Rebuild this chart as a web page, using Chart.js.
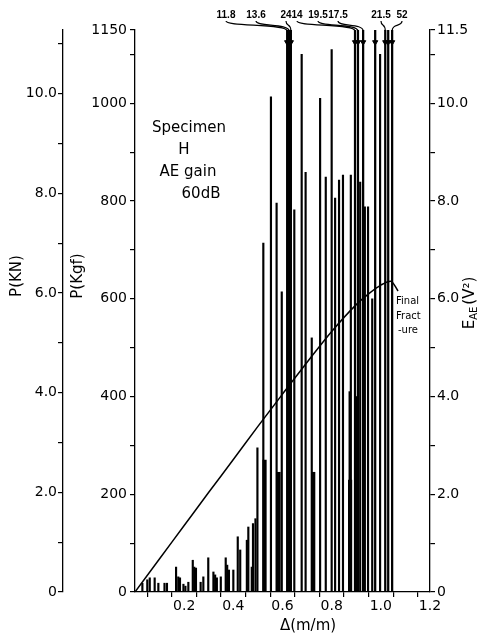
<!DOCTYPE html>
<html>
<head>
<meta charset="utf-8">
<script src="https://cdn.jsdelivr.net/npm/chart.js@4.4.1/dist/chart.umd.min.js"></script>
<style>
  html, body { margin: 0; padding: 0; background: #fff; }
  #wrap { width: 479px; height: 635px; }
</style>
</head>
<body>
<div id="wrap"><canvas id="aeChart" width="479" height="635"></canvas></div>
<script>
// load curve: P (kgf) against deflection (m/m)
const loadDelta = [0, 0.1, 0.2, 0.3, 0.4, 0.5, 0.6, 0.7, 0.8, 0.9, 0.95, 1.0, 1.04, 1.07];
const loadKgf   = [0, 68, 136, 204, 271, 339, 405, 470, 533, 588, 610, 628, 636, 616];

// AE energy per burst, E_AE (V^2) - thin lines
const burstDelta = [0.03, 0.05, 0.06, 0.08, 0.095, 0.12, 0.13, 0.167, 0.176, 0.183, 0.197, 0.205, 0.217,
  0.235, 0.241, 0.248, 0.267, 0.278, 0.298, 0.319, 0.326, 0.333, 0.349, 0.369, 0.375, 0.382, 0.4,
  0.418, 0.428, 0.455, 0.461, 0.475, 0.48, 0.49, 0.498, 0.522, 0.553, 0.576, 0.597, 0.648, 0.678,
  0.694, 0.719, 0.753, 0.776, 0.8, 0.814, 0.83, 0.846, 0.873, 0.878, 0.899, 0.916, 0.935, 0.948,
  0.965, 0.997];
const burstEnergy = [0.18, 0.25, 0.29, 0.29, 0.18, 0.18, 0.18, 0.51, 0.31, 0.29, 0.16, 0.12, 0.2,
  0.65, 0.51, 0.49, 0.2, 0.31, 0.7, 0.41, 0.35, 0.29, 0.31, 0.7, 0.55, 0.45, 0.45,
  1.13, 0.86, 1.06, 1.33, 0.51, 1.4, 1.5, 2.95, 7.14, 10.13, 7.96, 6.14, 7.82, 11.0,
  8.59, 5.2, 10.1, 8.49, 11.1, 8.06, 8.43, 8.53, 4.1, 8.53, 4.0, 8.39, 7.88, 7.88,
  6.0, 11.0];

// wide bursts
const wideDelta  = [0.527, 0.584, 0.725, 0.875];
const wideEnergy = [2.7, 2.45, 2.45, 2.29];

// bursts running off the top of the scale, with their printed values
const overDelta  = [0.619, 0.627, 0.634, 0.895, 0.907, 0.928, 0.977, 1.018, 1.03, 1.046];
const overEnergy = [11.8, 13.6, 24, 14, 19.5, 17.5, 11.6, 21.5, 11.6, 52];
const overLabels = ['11.8', '13.6', '24', '14', '19.5', '17.5', '', '21.5', '', '52'];
const overLabelX = [226, 256, 286, 297, 318, 338, 0, 381, 0, 402]; // where the printed numbers sit

// tick labels
const kgfLabels = [0, 200, 400, 600, 800, 1000, 1150];
const knLabels  = [0, 2, 4, 6, 8, 10];
const eLabels   = [0, 2, 4, 6, 8, 10, 11.5];
const xLabels   = [0.2, 0.4, 0.6, 0.8, 1.0, 1.2];

const KGF_PER_KN = 101.97;
const FONT = '"DejaVu Sans", sans-serif';

const pts = (xs, ys) => xs.map((d, i) => ({ x: d, y: ys[i] }));
const range = (a, b, s) => { const r = []; for (let v = a; v <= b + 1e-9; v += s) r.push(Math.round(v * 10) / 10); return r; };
const has = (arr, v) => arr.some(a => Math.abs(a - v) < 1e-6);

function axisStyle(pad) {
  return {
    border: { color: '#000', width: 1.3 },
    grid: { drawOnChartArea: false, color: '#000', tickLength: 5, lineWidth: 1.2 },
    ticks: { color: '#000', font: { family: FONT, size: 14 }, padding: pad }
  };
}

const annotate = {
  id: 'annotate',
  afterDraw(chart) {
    const ctx = chart.ctx;
    const xs = chart.scales.x;
    ctx.save();
    ctx.fillStyle = '#000';
    ctx.strokeStyle = '#000';
    ctx.textBaseline = 'middle';

    // axis titles
    const vText = (txt, x, y) => {
      ctx.save(); ctx.translate(x, y); ctx.rotate(-Math.PI / 2);
      ctx.textAlign = 'center'; ctx.fillText(txt, 0, 0); ctx.restore();
    };
    ctx.font = '15px ' + FONT;
    vText('P(KN)', 17, 276);
    vText('P(Kgf)', 78, 276);

    // E_AE (V²) with subscript
    ctx.save();
    ctx.translate(470, 303);
    ctx.rotate(-Math.PI / 2);
    ctx.textAlign = 'left';
    const big = '15px ' + FONT, small = '10px ' + FONT;
    ctx.font = big; const wE = ctx.measureText('E').width;
    ctx.font = small; const wAE = ctx.measureText('AE').width;
    ctx.font = big; const wV = ctx.measureText('(V²)').width;
    let cx = -(wE + wAE + wV + 2) / 2;
    ctx.font = big; ctx.fillText('E', cx, 0); cx += wE;
    ctx.font = small; ctx.fillText('AE', cx, 4); cx += wAE + 2;
    ctx.font = big; ctx.fillText('(V²)', cx, 0);
    ctx.restore();

    ctx.textAlign = 'center';
    ctx.font = '15px ' + FONT;
    ctx.fillText('Δ(m/m)', 308, 626);

    // specimen note
    ctx.fillText('Specimen', 189, 128);
    ctx.fillText('H', 184, 150);
    ctx.fillText('AE gain', 188, 172);
    ctx.fillText('60dB', 201, 194);

    ctx.textAlign = 'left';
    ctx.font = '10px ' + FONT;
    ctx.fillText('Final', 396, 301);
    ctx.fillText('Fract', 396, 316);
    ctx.fillText('-ure', 398, 330);

    // printed values of the off-scale bursts and their leaders
    ctx.textAlign = 'center';
    ctx.font = 'bold 10px "Liberation Sans", sans-serif';
    ctx.lineWidth = 1.2;
    overLabels.forEach((t, i) => {
      if (!t) return;
      const lx = overLabelX[i];
      const bx = xs.getPixelForValue(overDelta[i]);
      ctx.fillText(t, lx, 15);
      ctx.beginPath();
      ctx.moveTo(lx, 21);
      ctx.bezierCurveTo(lx, 27, bx, 23, bx, 31);
      ctx.stroke();
    });
    ctx.restore();
  }
};

new Chart(document.getElementById('aeChart').getContext('2d'), {
  type: 'bar',
  data: {
    datasets: [
      {
        type: 'line', data: pts(loadDelta, loadKgf), yAxisID: 'y',
        borderColor: '#000', borderWidth: 1.5, pointRadius: 0, cubicInterpolationMode: 'monotone'
      },
      {
        data: pts(burstDelta, burstEnergy), yAxisID: 'yE',
        backgroundColor: '#000', barThickness: 1.5, grouped: false
      },
      {
        data: pts(wideDelta, wideEnergy), yAxisID: 'yE',
        backgroundColor: '#000', barThickness: 3.5, grouped: false
      },
      {
        data: pts(overDelta, overEnergy), yAxisID: 'yE',
        backgroundColor: '#000', barThickness: 1.6, grouped: false
      },
      {
        type: 'scatter', data: overDelta.map(d => ({ x: d, y: 11.25 })), yAxisID: 'yE',
        pointStyle: 'triangle', rotation: 180, radius: 3,
        backgroundColor: '#000', borderColor: '#000', borderWidth: 1
      }
    ]
  },
  options: {
    responsive: false,
    animation: false,
    devicePixelRatio: 1,
    layout: { padding: { top: 30, left: 0, right: 0, bottom: 0 } },
    plugins: { legend: { display: false }, tooltip: { enabled: false } },
    scales: {
      x: {
        type: 'linear', min: 0, max: 1.2, offset: false,
        ...axisStyle(1),
        afterBuildTicks: s => { s.ticks = range(0, 1.2, 0.1).map(v => ({ value: v })); },
        afterFit: s => { s.height = 43; },
        ticks: { ...axisStyle(1).ticks, maxRotation: 0, autoSkip: false,
          callback: v => has(xLabels, v) ? v.toFixed(1) : '' }
      },
      yKN: {
        position: 'left', weight: 1, min: 0, max: 1150 / KGF_PER_KN,
        ...axisStyle(1),
        afterBuildTicks: s => { s.ticks = range(0, 11, 1).map(v => ({ value: v })); },
        afterFit: s => { s.width = 63; },
        ticks: { ...axisStyle(1).ticks, autoSkip: false,
          callback: v => has(knLabels, v) ? (v === 0 ? '0' : v.toFixed(1)) : '' }
      },
      y: {
        position: 'left', weight: 0, min: 0, max: 1150,
        ...axisStyle(3),
        afterBuildTicks: s => { s.ticks = range(0, 1100, 100).concat([1150]).map(v => ({ value: v })); },
        afterFit: s => { s.width = 72; },
        ticks: { ...axisStyle(3).ticks, autoSkip: false,
          callback: v => has(kgfLabels, v) ? String(v) : '' }
      },
      yE: {
        position: 'right', min: 0, max: 11.5,
        ...axisStyle(2),
        afterBuildTicks: s => { s.ticks = range(0, 11, 1).concat([11.5]).map(v => ({ value: v })); },
        afterFit: s => { s.width = 49; },
        ticks: { ...axisStyle(2).ticks, autoSkip: false,
          callback: v => has(eLabels, v) ? (v === 0 ? '0' : v.toFixed(1)) : '' }
      }
    }
  },
  plugins: [annotate]
});
</script>
</body>
</html>
